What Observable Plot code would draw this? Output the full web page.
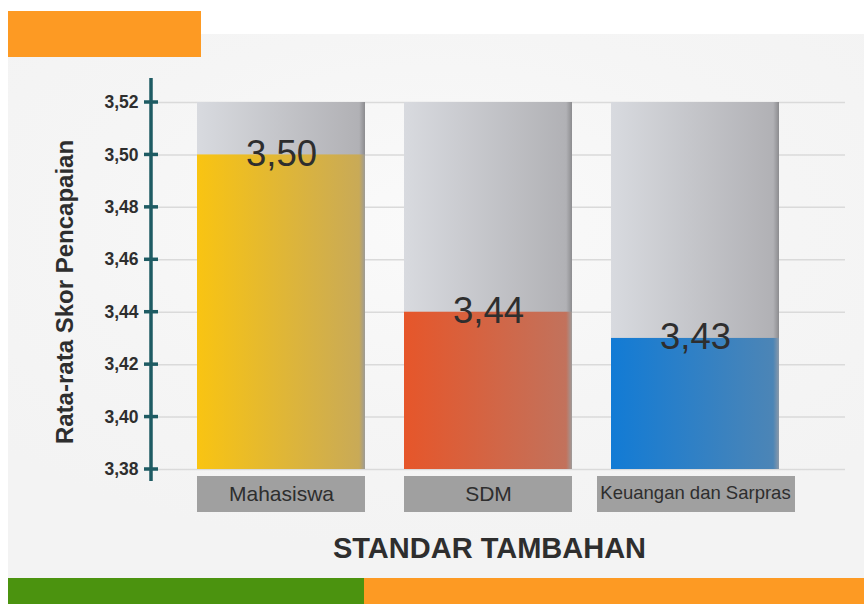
<!DOCTYPE html>
<html><head><meta charset="utf-8">
<script src="https://cdn.jsdelivr.net/npm/d3@7"></script>
<script src="https://cdn.jsdelivr.net/npm/@observablehq/plot@0.6"></script>
<style>
body{margin:0;background:#fff;font-family:"Liberation Sans",Arial,sans-serif;}
#wrap{position:relative;width:864px;height:604px;overflow:hidden;}
.deco{position:absolute;}
#chart{position:absolute;left:0;top:0;}
</style></head><body>
<div id="wrap">
<div class="deco" style="left:8px;top:34px;width:856px;height:544px;background:radial-gradient(ellipse 70% 60% at 50% 35%, #fafafa 0%, #f5f5f5 60%, #f3f3f3 100%);"></div>
<div class="deco" style="left:8px;top:11px;width:193px;height:46px;background:#fd9a23"></div>
<div class="deco" style="left:8px;top:578px;width:356px;height:26px;background:#4b930f"></div>
<div class="deco" style="left:364px;top:578px;width:500px;height:26px;background:#fd9a23"></div>
<div id="chart"></div>
</div>
<script>
// ---- data ----
const categories = ["Mahasiswa", "SDM", "Keuangan dan Sarpras"];
const scores = [3.50, 3.44, 3.43];
const yTicks = [3.38, 3.40, 3.42, 3.44, 3.46, 3.48, 3.50, 3.52];
const yMin = 3.38, yMax = 3.52;
const xTitle = "STANDAR TAMBAHAN";
const yTitle = "Rata-rata Skor Pencapaian";

const data = categories.map((c, i) => ({category: c, score: scores[i]}));
const fmt = v => d3.format(".2f")(v).replace(".", ",");

// ---- styles ----
const gradients = [
  {id: "gGray", stops: ["#d8dadf", "#b1b1b5", "#8c8c8f"]},
  {id: "g0", stops: ["#f9c412", "#c9aa57", "#9d9b96"]},
  {id: "g1", stops: ["#e6562a", "#c2725c", "#9d9b9a"]},
  {id: "g2", stops: ["#127bd5", "#4c85b6", "#8a98a8"]}
];
const axisColor = "#1e5b63";
const textColor = "#2e2e2e";

function defsMark() {
  const defs = d3.create("svg:defs");
  for (const g of gradients) {
    const lg = defs.append("linearGradient").attr("id", g.id)
      .attr("x1", 0).attr("x2", 1).attr("y1", 0).attr("y2", 0);
    lg.append("stop").attr("offset", 0).attr("stop-color", g.stops[0]);
    lg.append("stop").attr("offset", 0.965).attr("stop-color", g.stops[1]);
    lg.append("stop").attr("offset", 1).attr("stop-color", g.stops[2]);
  }
  return defs.node();
}

function axisLineMark(index, scales, values, dimensions) {
  const g = d3.create("svg:g");
  const x0 = dimensions.marginLeft;
  g.append("line")
    .attr("x1", x0).attr("x2", x0)
    .attr("y1", scales.y(yMax) - 24).attr("y2", scales.y(yMin) + 12)
    .attr("stroke", axisColor).attr("stroke-width", 3.5);
  g.selectAll(null).data(yTicks).join("line")
    .attr("x1", x0 - 7).attr("x2", x0 + 7)
    .attr("y1", d => scales.y(d)).attr("y2", d => scales.y(d))
    .attr("stroke", axisColor).attr("stroke-width", 3.5);
  return g.node();
}

const chart = Plot.plot({
  width: 864,
  height: 604,
  marginTop: 102,
  marginBottom: 135,
  marginLeft: 151,
  marginRight: 19,
  style: {background: "transparent", fontFamily: "'Liberation Sans', Arial, sans-serif"},
  x: {domain: categories, paddingInner: 0.19, paddingOuter: 0.271, align: 0.41, axis: null},
  y: {domain: [yMin, yMax], axis: null},
  color: {type: "ordinal", domain: categories, range: ["url(#g0)", "url(#g1)", "url(#g2)"]},
  marks: [
    defsMark,
    Plot.ruleY(yTicks, {stroke: "#dadada", strokeWidth: 1.5}),
    Plot.barY(categories, {x: d => d, y1: () => yMin, y2: () => yMax, fill: "url(#gGray)"}),
    Plot.barY(data, {x: "category", y1: () => yMin, y2: "score", fill: "category"}),
    Plot.text(data, {x: "category", y: "score", text: d => fmt(d.score), fontSize: 36.5, fill: textColor, dy: -1}),
    // category label boxes
    Plot.barY(categories.slice(0, 2), {x: d => d, y1: () => yMin, y2: () => yMin, insetTop: 7, insetBottom: -43, fill: "#a0a0a0"}),
    Plot.barY(categories.slice(2), {x: d => d, y1: () => yMin, y2: () => yMin, insetTop: 7, insetBottom: -43, insetLeft: -14, insetRight: -16, fill: "#a0a0a0"}),
    Plot.text(categories.slice(0, 2), {x: d => d, frameAnchor: "bottom", lineAnchor: "middle", dy: 25, fontSize: 21, fill: textColor}),
    Plot.text(categories.slice(2), {x: d => d, frameAnchor: "bottom", lineAnchor: "middle", dy: 24, fontSize: 18.5, fill: textColor}),
    // y axis
    Plot.axisY({ticks: yTicks, tickSize: 0, tickPadding: 13, fontSize: 17.5, fontWeight: "bold", fill: textColor, tickFormat: fmt, label: null}),
    axisLineMark,
    Plot.text([yTitle], {frameAnchor: "left", textAnchor: "middle", lineAnchor: "middle", rotate: -90, dx: -86, dy: 6, fontSize: 24, fontWeight: "bold", fill: textColor}),
    Plot.text([xTitle], {frameAnchor: "bottom", lineAnchor: "middle", dx: -9, dy: 79, fontSize: 29, fontWeight: "bold", fill: textColor})
  ]
});
document.getElementById("chart").appendChild(chart);
</script>
</body></html>
